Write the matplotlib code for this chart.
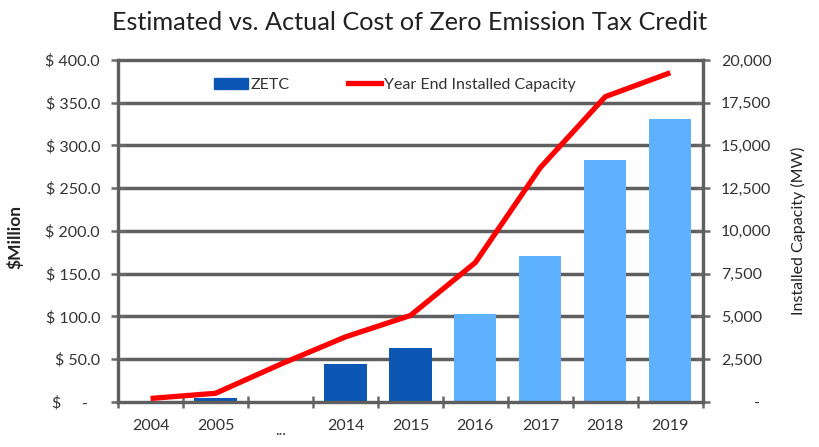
import matplotlib
matplotlib.use("Agg")
from matplotlib import pyplot as plt
from matplotlib.patches import Patch
from matplotlib.lines import Line2D
from matplotlib.ticker import FuncFormatter, MultipleLocator

plt.rcParams['font.family'] = ['Lato', 'DejaVu Sans']

years = ["2004", "2005", "...", "2014", "2015", "2016", "2017", "2018", "2019"]
zetc = [1.5, 4, 0, 44, 63, 103, 171, 283, 331]
estimated = [False, False, False, False, False, True, True, True, True]
capacity = [200, 500, 2200, 3800, 5050, 8150, 13700, 17850, 19250]

dark_blue = "#0B57B3"
light_blue = "#5EB1FF"
grey = "#6a6a6a"
grid_grey = "#5f5f5f"

fig = plt.figure(figsize=(8.2, 4.47), dpi=100)
ax = fig.add_axes([0.144, 0.101, 0.713, 0.765])
ax2 = ax.twinx()

x = list(range(len(years)))
colors = [light_blue if e else dark_blue for e in estimated]
ax.bar(x, zetc, width=0.65, color=colors, zorder=2)
ax2.plot(x, capacity, color="#FF0000", linewidth=3.8, solid_capstyle="butt", zorder=3)

ax.set_xlim(-0.5, len(years) - 0.5)
ax.set_ylim(0, 400)
ax2.set_ylim(0, 20000)

ax.yaxis.set_major_locator(MultipleLocator(50))
ax.yaxis.set_major_formatter(FuncFormatter(lambda v, p: "$ %.1f" % v if v > 0 else "$     -   "))
ax2.yaxis.set_major_locator(MultipleLocator(2500))
ax2.yaxis.set_major_formatter(FuncFormatter(lambda v, p: "{:,.0f}".format(v) if v > 0 else "        -"))

ax.set_xticks(x)
ax.set_xticklabels([y if y != "..." else "" for y in years])
ax.set_xticks([i + 0.5 for i in range(-1, len(years))], minor=True)
ax.tick_params(axis="x", which="major", length=0, pad=12, labelsize=11.5, labelcolor="#333333")
ax.tick_params(axis="x", which="minor", length=9, direction="inout", width=1.8, color=grey)
ax.text(2, -0.085, "...", transform=ax.get_xaxis_transform(), ha="center", va="center",
        fontsize=11, color="#333333")

ax.tick_params(axis="y", length=10, direction="inout", width=1.8, color=grey,
               labelsize=11.5, labelcolor="#333333", pad=8)
ax2.tick_params(axis="y", length=10, direction="inout", width=1.8, color=grey,
                labelsize=11.5, labelcolor="#333333", pad=8)

# horizontal gridlines behind the bars
grid_at = [v for v in ax.get_yticks() if 0 < v < 400]
ax.hlines(grid_at, -0.5, len(years) - 0.5, colors=grid_grey, linewidth=2.5, zorder=1)

for a in (ax, ax2):
    for s in a.spines.values():
        s.set_color(grid_grey)
        s.set_linewidth(2.3)

fig.text(15 / 820, 0.47, "$Million", rotation=90, fontsize=12.5, fontweight="bold",
         color="#222222", ha="center", va="center")
ax2.set_ylabel("Installed Capacity (MW)", fontsize=11.5, color="#222222", labelpad=14)

fig.suptitle("Estimated vs. Actual Cost of Zero Emission Tax Credit", fontsize=18.2,
             x=0.5, y=0.975, color="#222222")

handles = [Patch(color=dark_blue), Line2D([0], [0], color="#FF0000", linewidth=3.8)]
ax2.legend(handles, ["ZETC", "Year End Installed Capacity"], loc="upper left",
           bbox_to_anchor=(0.14, 0.99), ncol=2, frameon=False, fontsize=11.5,
           handlelength=2.1, handletextpad=0.2, columnspacing=3.6, labelcolor="#333333")

fig.savefig("out.png", dpi=100)
